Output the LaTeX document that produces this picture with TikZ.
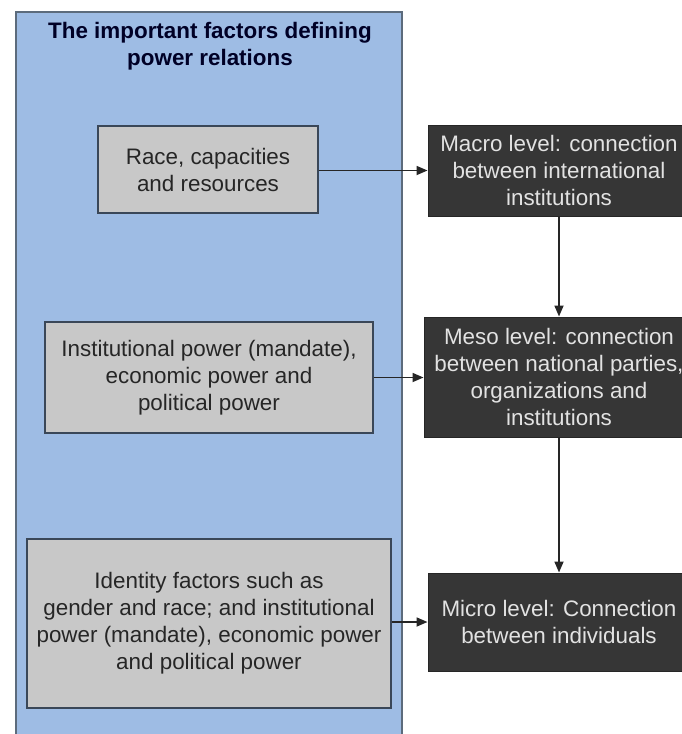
\documentclass[tikz,border=0pt]{standalone}
\usepackage{fontspec}
\setmainfont{Liberation Sans}
\usetikzlibrary{arrows.meta}
\definecolor{panelblue}{HTML}{9EBCE4}
\definecolor{panelline}{HTML}{5C6B7C}
\definecolor{factorfill}{HTML}{C8C8C8}
\definecolor{factorline}{HTML}{3A4758}
\definecolor{levelfill}{HTML}{363636}
\definecolor{leveltext}{HTML}{E2E2E2}
\definecolor{inktext}{HTML}{262626}
\tikzset{
  txt/.style={font=\fontsize{22.4}{27}\selectfont, align=center, inner sep=0pt},
  factor/.style={txt, draw=factorline, line width=1.4pt, fill=factorfill, text=inktext},
  level/.style={txt, draw=levelfill!70!black, line width=1pt, fill=levelfill, text=leveltext},
  link/.style={draw=black!85, line width=1.7pt, -{Triangle[length=11pt,width=9pt]}}
}
\begin{document}
\begin{tikzpicture}[x=1pt,y=-1pt]
  \clip (0,0) rectangle (682,734);
  \fill[white] (0,0) rectangle (682,734);

  % left panel with its heading
  \node[draw=panelline, line width=1.3pt, fill=panelblue, inner sep=0pt,
        minimum width=386pt, minimum height=740pt] (panel) at (209,382) {};
  \node[txt, font=\fontsize{22.4}{27}\selectfont\bfseries, text=black!85!blue] (title) at (210,46)
    {The important factors defining\\power relations};

  % factor boxes
  \node[factor, minimum width=220pt, minimum height=87pt] (race) at (208,169.5)
    {Race, capacities\\and resources};
  \node[factor, minimum width=328pt, minimum height=111pt] (inst) at (209,377.5)
    {Institutional power (mandate),\\economic power and\\political power};
  \node[factor, minimum width=364pt, minimum height=169pt] (ident) at (209,623.5)
    {Identity factors such as\\gender and race; and institutional\\power (mandate), economic power\\and political power};

  % level boxes
  \node[level, minimum width=262pt, minimum height=91pt] (macro) at (559,170.5)
    {Macro level: connection\\between international\\institutions};
  \node[level, minimum width=270pt, minimum height=120pt] (meso) at (559,377)
    {Meso level: connection\\between national parties,\\organizations and\\institutions};
  \node[level, minimum width=262pt, minimum height=98pt] (micro) at (559,622)
    {Micro level: Connection\\between individuals};

  % connectors
  \draw[link] (race.east |- macro.west) -- (macro.west);
  \draw[link] (inst.east) -- (inst.east -| meso.west);
  \draw[link] (ident.east |- micro.west) -- (micro.west);
  \draw[link] (macro.south) -- (meso.north);
  \draw[link] (meso.south) -- (micro.north);
\end{tikzpicture}
\end{document}
